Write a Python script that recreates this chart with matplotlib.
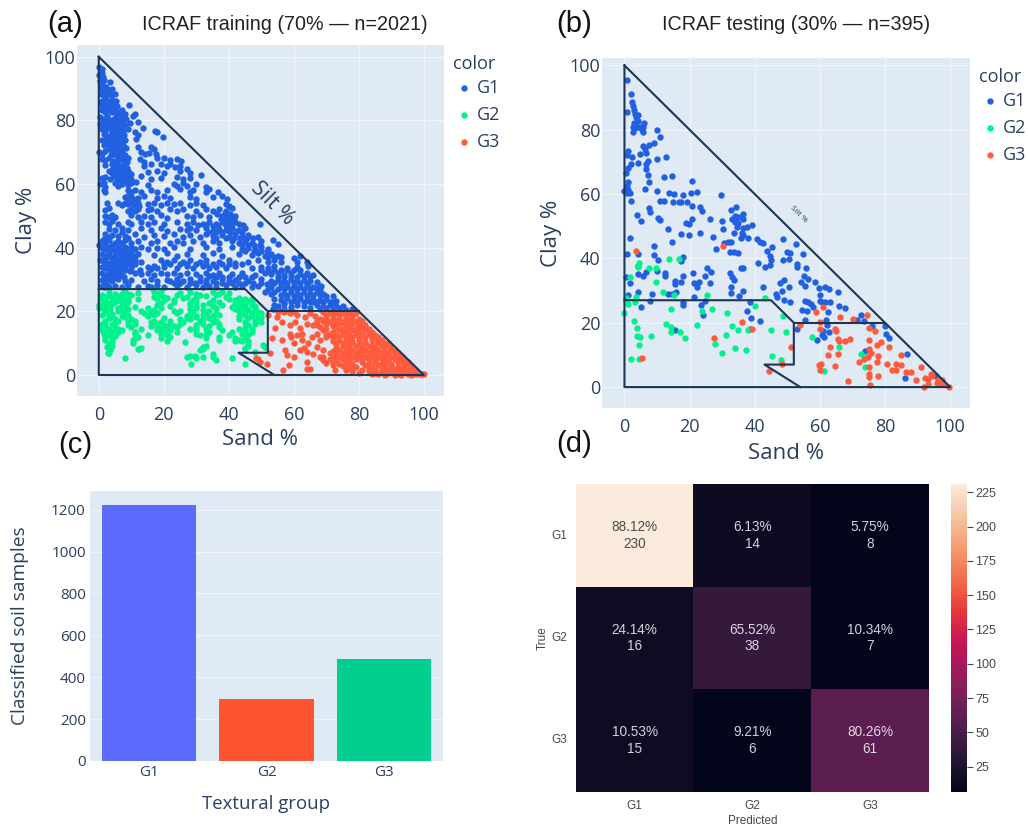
import numpy as np
import matplotlib
matplotlib.use('Agg')
import matplotlib.pyplot as plt
import seaborn as sns

# (sand, clay)
a_g1 = [(0.2,96.8),(1,96.2),(0.2,94.2),(0.9,94.8),(1.3,93.6),(0.5,92.3),(1.1,91.6),(1.6,92.7),(3.6,92.1),
(0.6,90.3),(1.2,89.7),(2.2,90.4),(3.1,89.5),(4.2,89.8),(0.8,88.4),(1.7,87.6),(2.6,88.2),(3.8,87.9),(4.9,88.3),
(1.1,86.2),(2.1,86.8),(3,85.7),(4.1,86.4),(5.2,86.1),(0.6,85.1),(1.6,84.6),(2.6,85.2),(3.5,84.2),(4.6,84.9),(5.6,84.4),(9.3,85),
(1,83.2),(2,82.6),(3.1,83.4),(4,82.5),(5.1,83.1),(6,82.7),(7.1,83.2),(8,82),(11.1,82),(10.4,81.4),
(0.5,81),(1.5,80.6),(2.5,81.3),(3.5,80.2),(5,80.8),(6.1,80.2),(7,81),(8.5,80.3),(9.6,79.2),(12,79.5),(13.7,77.6),
(0.5,79),(1.6,78.6),(2.6,79.4),(3.5,78.4),(4.5,79),(6,78.2),(8,78.7),(9,77.4),(11,76.5),(17.3,76.8),(18,76.3),(19.9,74.9),
(1,77.4),(2,76.8),(3,77.5),(4,76.4),(5,77),(6,76.2),(7.5,76.6),(12,75.4),(1.5,75.6),(3,75),(4,75.6),(5,74.8),(6,75.4),
(1,74),(2,73.6),(3.5,74.1),(4.5,73.2),(5.5,73.8),(7,73.4),(8,74),(11.5,74.3),(1.5,72.3),(3,71.8),(4.5,72.4),(5.2,71.4),(6,72),(7,71.2),(12.2,71.6),(16,71.8),(17,71),
(0,70),(1,69.6),(2,70.3),(4,69.8),(5,70.4),(6,69.4),(7,70),(8,69.2),(13,70.2),(14.2,69.5),(15.5,69.7),(17.5,69.3),
(1,68),(2,67.6),(3,68.3),(4.5,67.4),(6,68),(7.5,67.6),(9,68.2),(12.6,67.8),(14,67),(18,68.3),(20,68.1),(22,67.6),(24,68),(25.2,67.2),
(2,66),(4,66.4),(5,65.5),(6,66.2),(7,65.6),(8,66.3),(14,65.8),(16,66.2),(19,66.4),(21,65.6),(22,66.2),(23.5,65.4),(25,65.8),
(3,64),(4,63.5),(5,64.3),(6,63.6),(7,64.1),(8,63.4),(9,64),(15,63.8),(18,64.2),(20,63.5),(25,64),(27,64.6),(28,63.4),
(1,61.8),(2,62.3),(3.5,61.6),(5,62.2),(6,61.4),(7,62),(8,61.5),(9,62.3),(10,61.6),(13,62.4),(16,61.7),(19,62),(24,62.3),(26,61.5),(28,61.9),(31.5,62.7),
(0.5,60),(1.5,60.4),(2,59.2),(5,60.3),(6,59.5),(7,60.1),(9,59.6),(10,60.2),(15,59.7),(23,60.1),(24,59.3),(26,60.4),(27,59.5),(30,60),(33,59.2),
(1.5,58),(2,57.4),(9,58.2),(10,57.5),(11,58.1),(13,57.6),(16,58.2),(18,57.5),(21,58),(25,58.3),(28,57.5),(29,58.2),(33,57.6),(34,58.5),(36.7,57.4),
(8,56),(9,55.4),(10,56.2),(12,55.6),(14,56.2),(18,55.5),(20,56.1),(22,55.7),(28,56),(30,55.4),(35,56),(38,56.3),(39.4,55.4),
(2.5,54.2),(6,54.1),(7,53.5),(8,54.2),(9,53.6),(10,54),(11,53.4),(12,54.1),(15,53.6),(17,54.2),(19,53.5),(21,54.1),(23,53.6),(25,54.2),(28,53.5),(30,54),(32,53.4),(39,53.8),(40,53.2),
(2,52),(3,52.5),(9,51.6),(10,52.3),(11,51.5),(12,52.1),(15,51.7),(16,52.3),(18,51.6),(22,52.2),(24,51.5),(26,52.1),(30,51.6),(33,52.2),(35,51.5),(37,52.1),(39,51.6),(41,52.4),
(2,50),(3,49.5),(4,50.3),(5,49.6),(10,50.2),(12,49.5),(14,50.1),(16,49.6),(19,50.2),(21,49.4),(27,50.1),(29,49.6),(31,50.2),(34,49.5),(38,50.1),(40,49.5),(42,50),
(2,48),(3,47.5),(4,48.3),(6,47.6),(9,48.2),(10,47.4),(13,48),(15,47.5),(17,48.1),(20,47.6),(24,48.2),(27,47.5),(29,48.1),(32,47.6),(34,48.2),(36,47.4),(38,48),(39,47.2),(40,48.2),(41,47.5),(42,48.1),
(3,46),(5,45.6),(7,46.2),(9,45.5),(13,46.1),(16,45.6),(19,46.2),(21,45.4),(25,46),(27,45.5),(28,46.3),(30,45.6),(33,46.2),(35,45.4),(37,46),(39,45.5),(41,46.1),(43,45.6),(45,46.2),(49.6,47.6),
(4,44),(8,43.6),(11,44.2),(14,43.5),(17,44.1),(20,43.6),(23,44.2),(26,43.5),(28,44),(31,43.4),(33,44.2),(35,43.6),(38,44.1),(40,43.5),(42,44.2),(44,43.6),(46,44.1),(49,43.5),
(1,42),(2,41.6),(3,42.3),(5,41.5),(6,42.2),(7,41.6),(8,42.3),(10,41.5),(12,42.1),(16,41.6),(18,42.2),(22,41.5),(24,42),(26,41.6),(29,42.2),(32,41.5),(35,42),(37,41.6),(41,42.2),(43,41.5),(45,42),(47,41.5),(50,42.1),(53.5,42.3),(55,41.2),
(0,40.8),(1,40),(2,39.6),(3,40.3),(4,39.5),(6,40.2),(7,39.6),(8,40.3),(9,39.5),(10,40.1),(11,39.6),(13,40.2),(15,39.5),(18,40),(20,39.6),(23,40.2),(28,39.5),(33,40.1),(37,39.6),(41,40.2),(44,39.5),(46,40),(48,39.6),(50,40.2),(52,39.5),
(1,38),(2,37.5),(3,38.2),(5,37.6),(6,38.3),(7,37.5),(8,38.1),(9,37.6),(10,38.2),(11,37.4),(12,38),(17,37.6),(21,38.2),(24,37.5),(27,38),(32,37.6),(35,38.2),(38,37.4),(43,38),(47,37.6),(49,38.2),(51,37.5),(53,38),(55,37.4),(60,36.9),(62,37.4),
(0.5,36),(1.5,35.6),(2,36.3),(5,35.5),(6,36.1),(7,35.6),(9,36.2),(10,35.4),(11,36),(13,35.6),(19,36.2),(21,35.5),(23,36),(26,35.6),(28,36.2),(31,35.5),(33,36),(37,35.6),(40,36.1),(46,35.5),(49,36),(52,35.6),(54,36.2),(56,35.5),(61,35.6),(64,35.5),
(1,34),(2,33.5),(3,34.2),(4,33.6),(6,34.1),(7,33.5),(8,34.2),(10,33.6),(15,34),(16,33.4),(17,34.2),(18,33.6),(20,34),(24,33.5),(27,34.1),(29,33.6),(32,34.2),(34,33.5),(36,34),(39,33.6),(42,34.1),(47,33.5),(50,34),(52,33.6),(54,34.2),(58,33.5),(61,34),(64.5,34.2),
(1,32),(2,31.5),(3,32.2),(4,31.6),(5,32.1),(7,31.5),(11,32),(13,31.6),(15,32.2),(17,31.5),(19,32),(21,31.6),(23,32.2),(25,31.5),(27,32),(30,31.6),(33,32.2),(35,31.5),(37,32),(41,31.6),(44,32.1),(48,31.5),(51,32),(53,31.6),(55,32.2),(57,31.5),(59,32),(62,31.6),(64,32.1),(66,31.5),
(1,30),(2,29.5),(3,30.2),(4,29.6),(6,30.1),(8,29.5),(10,30),(14,29.6),(16,30.2),(18,29.5),(21,30),(22,29.4),(24,30.1),(26,29.6),(28,30.2),(31,29.5),(33,30),(35,29.6),(38,30.1),(40,29.5),(42,30),(46,29.6),(50,30.1),(53,29.5),(55,30),(57,29.6),(59,30.2),(61,29.5),(63,30),(65,29.6),(67,29.2),
(1,28),(1.5,27.6),(2.5,28.2),(3,27.5),(5,28.1),(7,27.6),(9,28.2),(12,27.5),(15,28),(16,27.6),(18,28.2),(20,27.5),(24,28),(27,27.6),(30,28.2),(32,27.5),(34,28),(36,27.6),(39,28.2),(42,27.6),(44,28),(47,27.5),(49,28.1),(53,27.6),(56,28.2),(58,27.5),(60,28),(62,27.6),(64,28.2),(66,27.5),(68,27),
(51,26),(53,25.6),(54,26.2),(57,25.5),(59,26),(61,25.6),(63,26.2),(65,25.5),(67,26),(69,25.6),(70,24.8),(72,24.9),
(54,24),(56,23.5),(58,24.1),(60,23.6),(62,24.2),(64,23.5),(66,24),(68,23.6),(70,24),(71,23),(73,23.2),
(54,22),(55,21.6),(57,22.2),(59,21.5),(61,22),(63,21.6),(67,22.1),(69,21.5),(71,22),(73,21.6),(75,21.7),
(53.5,20.7),(55,20.4),(57,20.8),(59,20.5),(68,20.6),(70,20.9),(72,20.5),(74,20.8),(76,20.5),(78,20.8),
# the denser clumps
(1.4,83.9),(2.8,84.1),(4.3,83.8),(5.6,82),(6.8,81.8),(1.3,79.9),(2.9,80.1),(4.3,80),(5.4,79.6),(7.2,79.6),(2.2,77.8),(3.6,77.9),(5.3,77.9),(6.8,77.6),(7.9,75.4),
(2.5,74.9),(4.4,75.1),(5.9,74.4),(7.1,74.8),(2.5,72.9),(4,72.9),(5.6,72.7),(7.3,72.3),(8.4,71.4),(3.4,70.9),(4.8,71),(6.3,70.8),(7.6,68.4),(3.7,69),(5.3,69),(8.6,67),
(4.5,65.1),(5.9,64.9),(7.4,65),(8.8,65.2),(9.8,63.3),(4.6,62.9),(6.4,62.9),(7.7,62.8),(11.3,60.8),(8.4,60.9),(11.4,55.2),(9.2,57),(12.5,53),(10.3,55),
(2,44.2),(3,43.4),(6,43.7),(7,44.8),(9,42.9),(1.6,42.8),(4.2,41),(4.9,39),(5.8,38.9),(7.4,39),(8.6,38.9),(9.8,38.9),(3.6,37),(4.5,36.7),(6.7,36.9),(8.2,36.8),(10.5,36.9),
(2.5,35),(3.6,35.2),(5,34.9),(7.2,35),(8.5,35.1),(9.6,34.8),(11,34.8),(12.6,33),(3,33),(4.7,33),(6.2,32.8),(8,32.9),(9.5,32.6),(1.7,30.8),(3.3,31),(4.9,30.8),(6.2,31),(7.9,30.8),
(30.5,47),(33,47),(35,46.9),(36.7,46.8),(39,47),(40.5,46.9),(33.5,44.9),(36,45),(38,44.8),(40.5,45),(42.5,45.1),(44,44.8),(36.5,50.6),(38.7,50.8),(40.5,50.7),(41.5,49),(37.5,49),(39,49),(43,47.4),(44.5,47),
(36,43),(39,42.9),(41.5,43),(43.5,43),(45.5,43),(47.5,42.9),(44,40.8),(46,40.9),(47.8,41),(49.5,41),(45,38.9),(47.8,38.9),(50,39),(51.8,38.9),(52,37),(54,37),(56,37),
(20,35),(22,34.8),(25,34.9),(27,35),(30,34.8),(33,34.9),(35,34.8),(38,35),(40,34.8),(42,35.1),(44,35),(31,30.9),(34,31),(36,30.8),(38,30.9),(40,30.9),(43,30.8),(45,30.9),(47,30.8),
(23,28.8),(25,29),(28,28.9),(29.7,29),(33,28.8),(36,28.9),(38,28.9),(41,28.9),(43,29),(45,29),(47.5,28.9),(50,28.9),(51.7,28.7),(54,29),(56,28.9),(58,28.9),(60,29),(62,28.9),(64,29),
(50,33),(52,33),(54,33),(56,33),(58,33),(60,33),(62,33),(55,30.9),(57,30.8),(59,31),(61,30.8),(63,31),(65,30.8),(52,27),(55,26.9),(57,26.9),(59,27),(61,27),(63,26.9),(65,27),(67,27.4),(68.5,28),
(56,25),(58,25),(60,24.8),(62,25),(64,24.9),(66,25),(68,25),(57,23),(59,22.9),(61,23),(63,23),(65,23),(67,23),(69,23),(72,22.8),(65,21),(66,22.9),(74,21)]

a_g2 = [(3,26),(5,25.6),(8,26.2),(9,25.5),(12,25.8),(17,26),(18,25.5),(19,26.3),(25,25.7),(28,26.2),(30,25.6),(35,26),(37,25.5),(38,26.1),(40,25.7),
(1,25),(2,24.6),(3,25.2),(6,24.7),(7,25.3),(8,24.5),(10,25.1),(17,24.6),(19,25),(20,24.5),(24,25.1),(27,24.6),(31,25.2),(33,24.7),(36,25),(39,24.5),
(1,24),(2,23.5),(4,24.1),(6,23.6),(7,24.2),(9,23.5),(12,23.9),(18,24),(20,23.5),(21,24.2),(23,23.6),(26,24.1),(29,23.5),(30,24.1),(35,23.6),(40,24),(42,23.5),(43,24.1),(44,23.6),(45,24),(46,23.4),(47,24),
(1.5,22.8),(3,22.6),(5,23),(7,22.5),(9,23),(19,22.6),(23,23),(28,22.5),(30,22.9),(34,22.6),(37,23),(42,22.5),(43,23),(45,22.6),(47,22.9),
(0,21.9),(1,21.5),(2,22),(3,21.6),(4,22.2),(7,21.6),(8,22.1),(11,21.5),(18,22),(22,21.6),(28,22.1),(30,21.5),(32,22),(35,21.6),(38,22.1),(41,21.5),(42,22),(43,21.6),(44,22.2),(45,21.5),(47,22),(48,21.6),
(0,21),(1.5,20.6),(2,21.2),(3.5,20.6),(6,21.1),(7,20.5),(8,21),(9,20.6),(15,21),(17,20.5),(19,21.1),(28,20.6),(30,21),(32,20.5),(36,21),(42,20.6),(44,21.1),(46,20.5),(48,21),
(2,19.9),(3,19.5),(6,20),(8,19.6),(13,20),(14,19.5),(16,19.9),(18,19.5),(23,20),(24,19.5),(25,20),(28,19.6),(29,20),(33,19.5),(34,20),(36,19.6),(43,20),(44,19.5),(45,20),(47,19.6),(49,19.9),(50,19.5),
(1,19),(3,18.6),(4,19.1),(7,18.6),(9,19),(15,18.5),(17,19),(27,18.6),(28,19.1),(30,18.5),(32,19),(35,18.6),(37,19),(43,18.5),(45,19),(47,18.6),(49,19),
(3,18),(5,17.6),(8,18.1),(10,17.5),(20,18),(25,17.6),(27,18),(28,17.5),(30,18.1),(32,17.6),(34,18),(43,17.6),(46,18),(49,17.6),(50,18.1),
(2,17),(5,16.6),(6,17.1),(9,16.5),(11,17),(16,16.6),(17,17.1),(19,16.5),(22,17),(26,16.6),(31,17),(35,16.5),(36,17.1),(45,16.6),(48,17),(50,16.6),
(1,16),(2,15.6),(4,16.1),(9,15.6),(11,16),(16,15.5),(18,16),(20,15.6),(22,16.1),(23,15.5),(25,16),(30,15.6),(32,16),(34,15.5),(37,16.1),(46,15.6),(48,16),
(1,15),(3,14.6),(5,15.1),(6,14.5),(10,15),(13,14.6),(18,15),(19,14.5),(21,15.1),(22,14.6),(24,15),(28,14.6),(30,15.1),(33,14.5),(37,15),(43,14.6),(45,15),(47,14.5),
(1,14),(2,13.6),(3,14.1),(4,13.5),(5,14),(6,13.6),(7,14.1),(11,13.6),(18,14),(20,13.5),(22,14),(24,13.6),(30,14),(34,13.6),(38,14),(41,13.5),(45,14),(47,13.6),
(1.5,13),(3,12.6),(4,13.1),(5,12.5),(11,13),(15,12.6),(19,13),(21,12.5),(30,13),(31,12.5),(33,13),(40,12.5),(44,13),(46,12.6),
(2,12),(4,11.6),(5,12.1),(11,11.6),(12,12),(19,11.5),(22,11.9),(33,11.6),(37,12),(42,11.6),(45,12),
(2,11),(4,10.5),(10.5,11),(21,10.7),(37,11),(42,10.6),(43,11),(44,10.6),(46,10.8),(3,9.8),(10.5,10),(26.5,10.5),(46,9.8),(50.5,9.5),
(2.5,8.8),(4,9),(12,8.3),(13,8.5),(32,8.9),(33,9),(45,8.6),(46,9.1),(51,8.9),(3.5,8),(12.5,8.2),(31,8),(32,8.3),(45,8.1),
(3,7),(27,5.8),(35,6.6),(48,7.2),(2.8,6.8),(8,5.3),(28,5.9),(29.5,6),(32,5.8),(35,5.5),(41,5.2),(30,5.2),(36,4.8),(28.5,3.5),(45,3.4)]

a_g3 = [(52.2,18.8),(54.8,18.3),(56.3,16.8),(58.9,19.4),(61,18.8),(60.4,16.8),(63.5,18.3),(54.3,14.7),(53.2,11.5),(56.3,11),(58.9,13),(60,10),(62.5,11),(62,7.9),
(57.3,7.9),(57.8,6.3),(52.7,6.8),(60,5.8),(56.8,1.6),(58.4,3.1),(64,4.2),(64,1.8),(65,1.8),(48.4,5.2),(49.1,5.1),(49.6,4.2),(51.7,3.5),(67,13),(66,15.7),(68,5.8),
(64.5,10),(65.5,12),(67,8.9),(62,14.7),(58.9,15.7),(62.5,13),(65,19.6),(66.5,18.6),(64,16),(67,17),(60,19.8),(57,19.7),(55,19.8),(59,11.8),(61,12.6),(66,6.6),(64,7.2),(63,8.6),
(69,19.8),(71,19.5),(73,19.9),(75,19.6),(77,19.8),(79,19.6),(70,19),(72,18.7),(74,19.1),(76,18.6),(78,19),
(68,17.6),(70,18),(72,17.5),(74,18),(76,17.6),(78,18),(80,17.6),(69,17),(71,16.6),(73,17.1),(75,16.6),(77,17),(79,16.5),(81,17),
(67,15.6),(70,16),(72,15.5),(74,16),(76,15.6),(78,16),(80,15.5),(82,15.8),(68,15),(70,14.6),(73,15),(75,14.5),(77,15),(79,14.6),(81,15),(83,14.5),
(69,14),(72,13.6),(74,14),(76,13.5),(78,14),(80,13.6),(82,14),(84,13.5),(70,12.6),(71,13),(73,12.5),(75,13),(77,12.6),(79,13),(81,12.5),(83,13),(85,12.6),
(70,12),(72,11.6),(74,12),(76,11.5),(78,12),(80,11.6),(82,12),(84,11.5),(86,11.9),(68,11),(72,10.6),(74,11),(76,10.5),(77,11),(78,10.6),(80,11),(82,10.5),(84,11),(86,10.6),(87,11),
(73,9.6),(75,10),(76,9.5),(78,10),(80,9.6),(82,10),(84,9.5),(86,10),(88,9.6),(89,10),(73,8.6),(75,9),(77,8.5),(79,9),(81,8.6),(83,9),(85,8.5),(87,9),(88,8.6),(90,9),
(69,8),(72,7.6),(74,8),(76,7.5),(78,8),(80,7.6),(82,8),(84,7.5),(86,8),(88,7.6),(90,8),(91,7.6),(71,7),(73,6.5),(75,7),(77,6.6),(79,7),(81,6.5),(83,7),(85,6.6),(87,7),(89,6.5),(91,7),(92,6.6),
(69,5.5),(72,6),(74,5.6),(76,6),(78,5.5),(80,6),(82,5.6),(84,6),(86,5.5),(88,6),(90,5.6),(92,6),(93,5.6),(69,4.6),(71,5),(73,4.5),(75,5),(77,4.6),(79,5),(81,4.5),(83,5),(85,4.6),(87,5),(89,4.5),(91,5),(93,4.6),(94,4.9),
(70,3.9),(72,4.2),(74,3.6),(76,4),(78,3.6),(81,4),(83,3.6),(85,4),(87,3.6),(88,4),(90,3.6),(92,4),(94,3.6),(95,4),(72,3.2),(75,2.7),(77,3),(79,2.6),(82,3),(84,2.6),(86,3),(88,2.6),(90,3),(92,2.6),(94,3),(96,2.7),
(72.7,1.6),(76,1.6),(78,2),(81,1.6),(83,2),(85,1.6),(87,2),(89,1.6),(91,2),(93,1.6),(95,2),(97,1.7),(78,1.1),(80,0.7),(83,1.1),(85,0.7),(87,1.1),(89,0.7),(90,1.1),(92,0.7),(94,1.1),(96,0.7),(97,1.1),(98,0.8),
(84,0.2),(86,0.3),(88,0.1),(91,0),(92,0.3),(93,0.1),(95,0.3),(96,0.1),(97,0.4),(98,0.2),(99,0.3),(99.5,0.2),(100,0.2)]

# (sand, clay)
b_g1 = [(0.9,95.5),(1.9,91),(2.3,88.6),(2.5,87.3),(2.8,86),(0.7,85.5),(3.1,85),(4.3,84.5),(3.5,84),(4.1,82.7),(2.8,82),(6.1,82.2),
(2.5,81),(4.8,81),(3.8,80.9),(3.1,80.4),(5.8,80.9),(5.3,79.8),(2.5,79.3),(5.8,79.3),(9.9,79.8),(11,77.8),(9.1,76),(7.6,75.3),(5.8,75),(6.3,74.1),
(1,73.3),(6.7,72.8),(4.8,72.4),(0.7,72),(2.3,71.4),(9.9,71),(12.6,71.4),(7.1,70.2),(2,69.5),(4.3,69.7),(6.7,69.5),(1,68),(6.7,67.7),(0.5,66.7),
(7.2,66),(12.1,65.2),(14.5,65.6),(7.4,63.7),(1,63.7),(20.7,64.2),(0.7,62.5),(1,61.2),(6.3,61.5),(9.9,61.1),(0,61),(1.7,60.4),(0.8,60.4),(13.7,60.4),
(15.1,60),(20.4,60.4),(22.3,60.8),(18.1,59.6),(29.7,59.7),(2,57.7),(10.8,57.9),(12,57.8),(14.8,57.5),(16.6,57.5),(17.3,57.6),(19.3,57.5),(20.7,56.4),
(23.2,56),(7.5,55.6),(7.9,54.5),(23.8,54.7),(4,53.5),(10.2,52.7),(11,51.9),(5.1,51.5),(20.7,52.1),(26.2,52.3),(30,51.5),(18.8,51.1),(19.7,50.6),
(13.3,49.2),(30.4,49),(17.3,47.7),(19.7,47.4),(23.3,47.8),(27.3,46.7),(1.6,46.4),(14.7,45.1),(32.8,55.2),(34.2,55.9),(33,52.1),(34,53.2),(34.8,52.9),
(36.3,53.8),(36.3,52.2),(34,51.4),(35,50.9),(34.5,49.8),(36.5,49.5),(37.6,49.8),(39.1,50.4),(33.7,47.8),(36,48),(36.5,47.3),(35.8,46.2),(37.8,46.5),
(40.7,46),(41.7,45.2),(42.4,44.7),(30.7,44.9),(31.9,45.2),(32.8,45.2),(28.1,43),(32.4,42.1),(33.7,41.9),(35,41.6),(45.3,43.5),(43.7,42.4),(48.6,45.9),
(52.7,44.6),(49.8,42.1),(50.9,41.6),(54.8,41.3),(44.7,40.7),(44.9,39.5),(48.6,39.4),(50.4,39.7),(44.7,38),(41.1,38.7),(43,37.2),(52.9,38.3),(53.1,37.2),
(55.8,37),(0.7,41.4),(4.2,41.5),(9.2,44),(9.2,41),(10.2,39.5),(18.1,40.3),(17.3,39.3),(4.1,37.5),(9.9,36.2),(25.3,36.9),(26.5,35.8),(21,35.6),(4.3,35.2),
(6.7,35.8),(5.8,34.5),(12.3,35.4),(12.5,34.5),(24.7,34.6),(18.1,34.5),(32.4,35.4),(33,34.3),(33.7,33.3),(35.8,37.1),(36.3,37.1),(0.6,34.1),(1.6,32.5),
(15.4,33),(15.5,32),(17.4,32.6),(21.4,32.3),(22.9,32.6),(22.3,31.2),(26.2,32.5),(32.8,31.2),(42.4,31.2),(49.1,33.2),(50.6,31),(47.8,32.5),(55,34.6),
(56.5,33.5),(54.1,32.7),(55.3,31.5),(58.5,32.8),(59.6,30.7),(61.6,31),(62.7,30.4),(65.7,29.7),(4.3,29.7),(32.7,29.4),(36.5,30),(35.2,28.4),(1,28.6),
(8.5,28.8),(13.3,28.9),(14.5,28.9),(15.8,29.5),(21.4,28.1),(48.3,30),(46.6,28.8),(46.8,27.9),(60.1,28.6),(49.1,27.1),(50.7,26.5),(55.3,26.9),(56.5,26.6),
(57.2,25.9),(58,24.8),(60.1,26.8),(60.8,26.3),(61.6,26.6),(63.2,26.3),(65.9,25.3),(67.8,24.5),(24.8,26.9),(7.9,26.9),(38.4,26.3),(18,26.6),(18,25.5),
(23.4,25.5),(5,24.9),(54.5,23.9),(56,23.5),(37.6,23.8),(24.1,22.4),(62.6,23.2),(72.7,22.4),(38.9,21.6),(41.7,20.7),(71.3,20.9),(73.4,20.7),(55.3,20.9),
(61.9,20.9),(62.1,19.3),(75.9,19),(80,19),(38.6,18),(15.6,17.6),(52.9,18),(61.1,17.3),(62.9,17),(80.3,16.4),(81.1,15.2),(60.6,16.2),(61.4,15.5),(59.2,14.5),
(73.9,11.3),(86.7,10.3),(86.2,2.8),(95.6,3.6)]

b_g2 = [(13.7,39.7),(16.6,39.9),(4.6,38.5),(4.1,37.4),(7.4,37.1),(9.6,36.9),(9.8,32.8),(1.8,34.3),(11.9,29.5),(25.2,28.7),(3.5,28.1),(15.1,28.6),(43.2,27.6),
(0.6,27.6),(3.3,26.4),(1,25.9),(0,23),(40.1,25.3),(14.3,24.2),(27,24.2),(23.7,23.7),(31.4,23),(48.8,22.1),(2.8,20.6),(12.6,19.5),(14.2,18.7),(22.2,19.3),
(33,19),(4,18.3),(14.4,17),(17.2,17.1),(35,17.6),(37.8,17.6),(44.9,17.6),(49.6,17.2),(3.8,16),(4.8,15.6),(8.1,15.8),(18.6,15.4),(31.2,16.2),(57.7,15.7),
(4.5,13.2),(27.8,13.3),(34,12.3),(37.4,11.4),(30.1,10.5),(66,12.4),(72.7,10.4),(74.6,9.6),(45.2,9.7),(2,8.8),(4.5,8.6),(48,8.5),(73.9,6.4),(61.4,5.1)]

b_g3 = [(3.5,42.4),(30.4,44),(58.8,23.3),(61.1,25),(66.2,21.9),(70.3,21.2),(74.5,22.4),(36,20.3),(60.1,20.1),(54,19.3),(39.1,18),(60.1,18),(64.5,18.1),
(64.9,17.5),(75.1,18.3),(76.8,17.5),(27.5,15.3),(65.7,14.9),(69.1,14.9),(67.6,14.2),(66,14.2),(75.1,14.5),(78.7,14.1),(77.5,13),(81.1,12.5),(63.2,12.4),
(51.2,12.5),(75.1,11.9),(84.9,10.1),(75.7,10.5),(62.6,9.9),(65.7,10.3),(78,9.7),(5.3,9.1),(73.4,8.7),(71.9,7.8),(74.7,9.5),(77.6,7.7),(48.5,7.2),(60.4,7.2),
(59.6,6.9),(64.5,6.6),(80.6,7.1),(83.4,7.1),(85,6.8),(91,6.2),(75.1,6.4),(60.1,5.2),(44.3,5),(82.1,5.2),(83.4,5.2),(86.4,4.8),(88,4.8),(75.1,4),(75.1,3.2),
(77.7,3.3),(94.1,4.2),(92.3,2.8),(93.3,2.5),(89.5,2.3),(68.5,1.8),(75.4,0.7),(92,0),(93.3,1),(96.4,2.3),(96.9,1.2),(98,0.9),(95.9,1.4),(99.5,0),(94.4,3.3),(97.4,2.3)]

# texture triangle outlines
outer_sand = [0, 0, 100, 0]
outer_clay = [100, 0, 0, 100]
g2_sand = [0, 45, 52, 52, 43, 54]
g2_clay = [27, 27, 20, 7, 7, 0]
g3_sand = [52, 80]
g3_clay = [20, 20]

groups = ['G1', 'G2', 'G3']
bar_counts = [1222, 295, 489]
conf = np.array([[230, 14, 8], [16, 38, 7], [15, 6, 61]])
conf_pct = [['88.12%', '6.13%', '5.75%'], ['24.14%', '65.52%', '10.34%'], ['10.53%', '9.21%', '80.26%']]
cbar_ticks = [25, 50, 75, 100, 125, 150, 175, 200, 225]

W, H = 1028, 825
INK = '#2a3f5f'
BG = '#dfeaf5'
GRID = '#f0f5fa'
NAVY = '#1c3654'
COLS = ['#2160e0', '#00f28c', '#ff5a3c']
PLOTLY = 'Open Sans'
ARIAL = 'Liberation Sans'
GREY = '#484848'


def px_axes(left, top, right, bottom):
    return fig.add_axes([left/W, 1-bottom/H, (right-left)/W, (bottom-top)/H])


def tri_panel(ax, pts, xlim, ylim, silt_size, xpad):
    ax.set_facecolor(BG)
    ax.set_axisbelow(True)
    ax.grid(True, color=GRID, lw=0.9)
    for p, c, g in zip(pts, COLS, groups):
        p = np.array(p)
        ax.scatter(p[:, 0], p[:, 1], s=21, color=c, linewidths=0, label=g, zorder=2)
    for xs, ys in [(outer_sand, outer_clay), (g2_sand, g2_clay), (g3_sand, g3_clay)]:
        ax.plot(xs, ys, color=NAVY, lw=1.5, zorder=3)
    ax.text(53.5, 53.8, 'Silt %', rotation=-45, rotation_mode='anchor', ha='center', va='center',
            fontsize=silt_size, color=INK, family=PLOTLY, zorder=4)
    ax.set_xlim(*xlim)
    ax.set_ylim(*ylim)
    ax.set_xticks(range(0, 101, 20))
    ax.set_yticks(range(0, 101, 20))
    ax.tick_params(axis='x', length=0, labelsize=13, labelcolor=INK, pad=7)
    ax.tick_params(axis='y', length=0, labelsize=13, labelcolor=INK, pad=1)
    for lab in ax.get_xticklabels() + ax.get_yticklabels():
        lab.set_family(PLOTLY)
    for s in ax.spines.values():
        s.set_visible(False)
    ax.set_xlabel('Sand %', fontsize=16, color=INK, family=PLOTLY, labelpad=xpad)
    ax.set_ylabel('Clay %', fontsize=16, color=INK, family=PLOTLY, labelpad=6)
    leg = ax.legend(title='color', loc='upper left', bbox_to_anchor=(1.0, 0.997), frameon=False,
                    prop={'family': PLOTLY, 'size': 13}, title_fontproperties={'family': PLOTLY, 'size': 13},
                    labelcolor=INK, handlelength=1.2, handletextpad=0.13, labelspacing=0.5,
                    borderaxespad=0.3, borderpad=0.2)
    leg.get_title().set_color(INK)
    leg._legend_box.align = 'left'
    leg._legend_box.sep = 4


fig = plt.figure(figsize=(W/100, H/100), dpi=100)

ax_a = px_axes(77, 45, 444, 396)
tri_panel(ax_a, [a_g1, a_g2, a_g3], (-6.7, 106.2), (-6.6, 103.7), 15, 4)
ax_b = px_axes(602, 58, 970, 408)
tri_panel(ax_b, [b_g1, b_g2, b_g3], (-6.9, 106.1), (-6.5, 102.3), 6, 5)

# bars
ax_c = px_axes(90, 491, 443, 761)
ax_c.set_facecolor(BG)
ax_c.set_axisbelow(True)
ax_c.grid(True, axis='y', color=GRID, lw=0.9)
ax_c.bar(groups, bar_counts, width=0.8, color=['#5b6bff', '#ff5430', '#00cf90'])
ax_c.set_xlim(-0.5, 2.5)
ax_c.set_ylim(0, 1289)
ax_c.set_yticks(range(0, 1201, 200))
ax_c.tick_params(length=0, labelsize=11, labelcolor=INK, pad=3)
for lab in ax_c.get_xticklabels() + ax_c.get_yticklabels():
    lab.set_family(PLOTLY)
for s in ax_c.spines.values():
    s.set_visible(False)
ax_c.set_xlabel('Textural group', fontsize=13.4, color=INK, family=PLOTLY, labelpad=11)
ax_c.set_ylabel('Classified soil samples', fontsize=13.8, color=INK, family=PLOTLY, labelpad=16)

# confusion matrix
ax_d = px_axes(575.7, 484.3, 929, 791.7)
cax = px_axes(951, 484.3, 966.7, 791.7)
annot = [[f'{conf_pct[i][j]}\n{conf[i][j]}' for j in range(3)] for i in range(3)]
sns.heatmap(conf, annot=annot, fmt='', ax=ax_d, cbar_ax=cax, xticklabels=groups, yticklabels=groups,
            vmin=6.8, vmax=230.8, annot_kws={'fontsize': 9.8, 'family': ARIAL})
for t in ax_d.texts:
    t.set_alpha(0.82)
ax_d.tick_params(length=0, labelsize=8.5, labelcolor=GREY, pad=6)
for lab in ax_d.get_xticklabels() + ax_d.get_yticklabels():
    lab.set_family(ARIAL)
ax_d.set_yticklabels(groups, rotation=0)
ax_d.set_xlabel('Predicted', fontsize=8.5, color=GREY, family=ARIAL, labelpad=2)
ax_d.set_ylabel('True', fontsize=8.5, color=GREY, family=ARIAL, labelpad=2)
cax.set_yticks(cbar_ticks)
cax.tick_params(length=4, width=0.8, labelsize=9, labelcolor=GREY, color=GREY, pad=2)
for lab in cax.get_yticklabels():
    lab.set_family(ARIAL)

# panel letters and titles
for s, x, y in [('(a)', 47, 24), ('(b)', 556, 24), ('(c)', 58, 445), ('(d)', 556, 444)]:
    fig.text(x/W, 1-y/H, s, fontsize=21, family=ARIAL, color='#111111', ha='left', va='center')
fig.text(285/W, 1-24/H, 'ICRAF training (70% — n=2021)', fontsize=14.2, family=ARIAL, color='#222222', ha='center', va='center')
fig.text(796/W, 1-25/H, 'ICRAF testing (30% — n=395)', fontsize=14.2, family=ARIAL, color='#222222', ha='center', va='center')

fig.savefig('out.png', dpi=100)
